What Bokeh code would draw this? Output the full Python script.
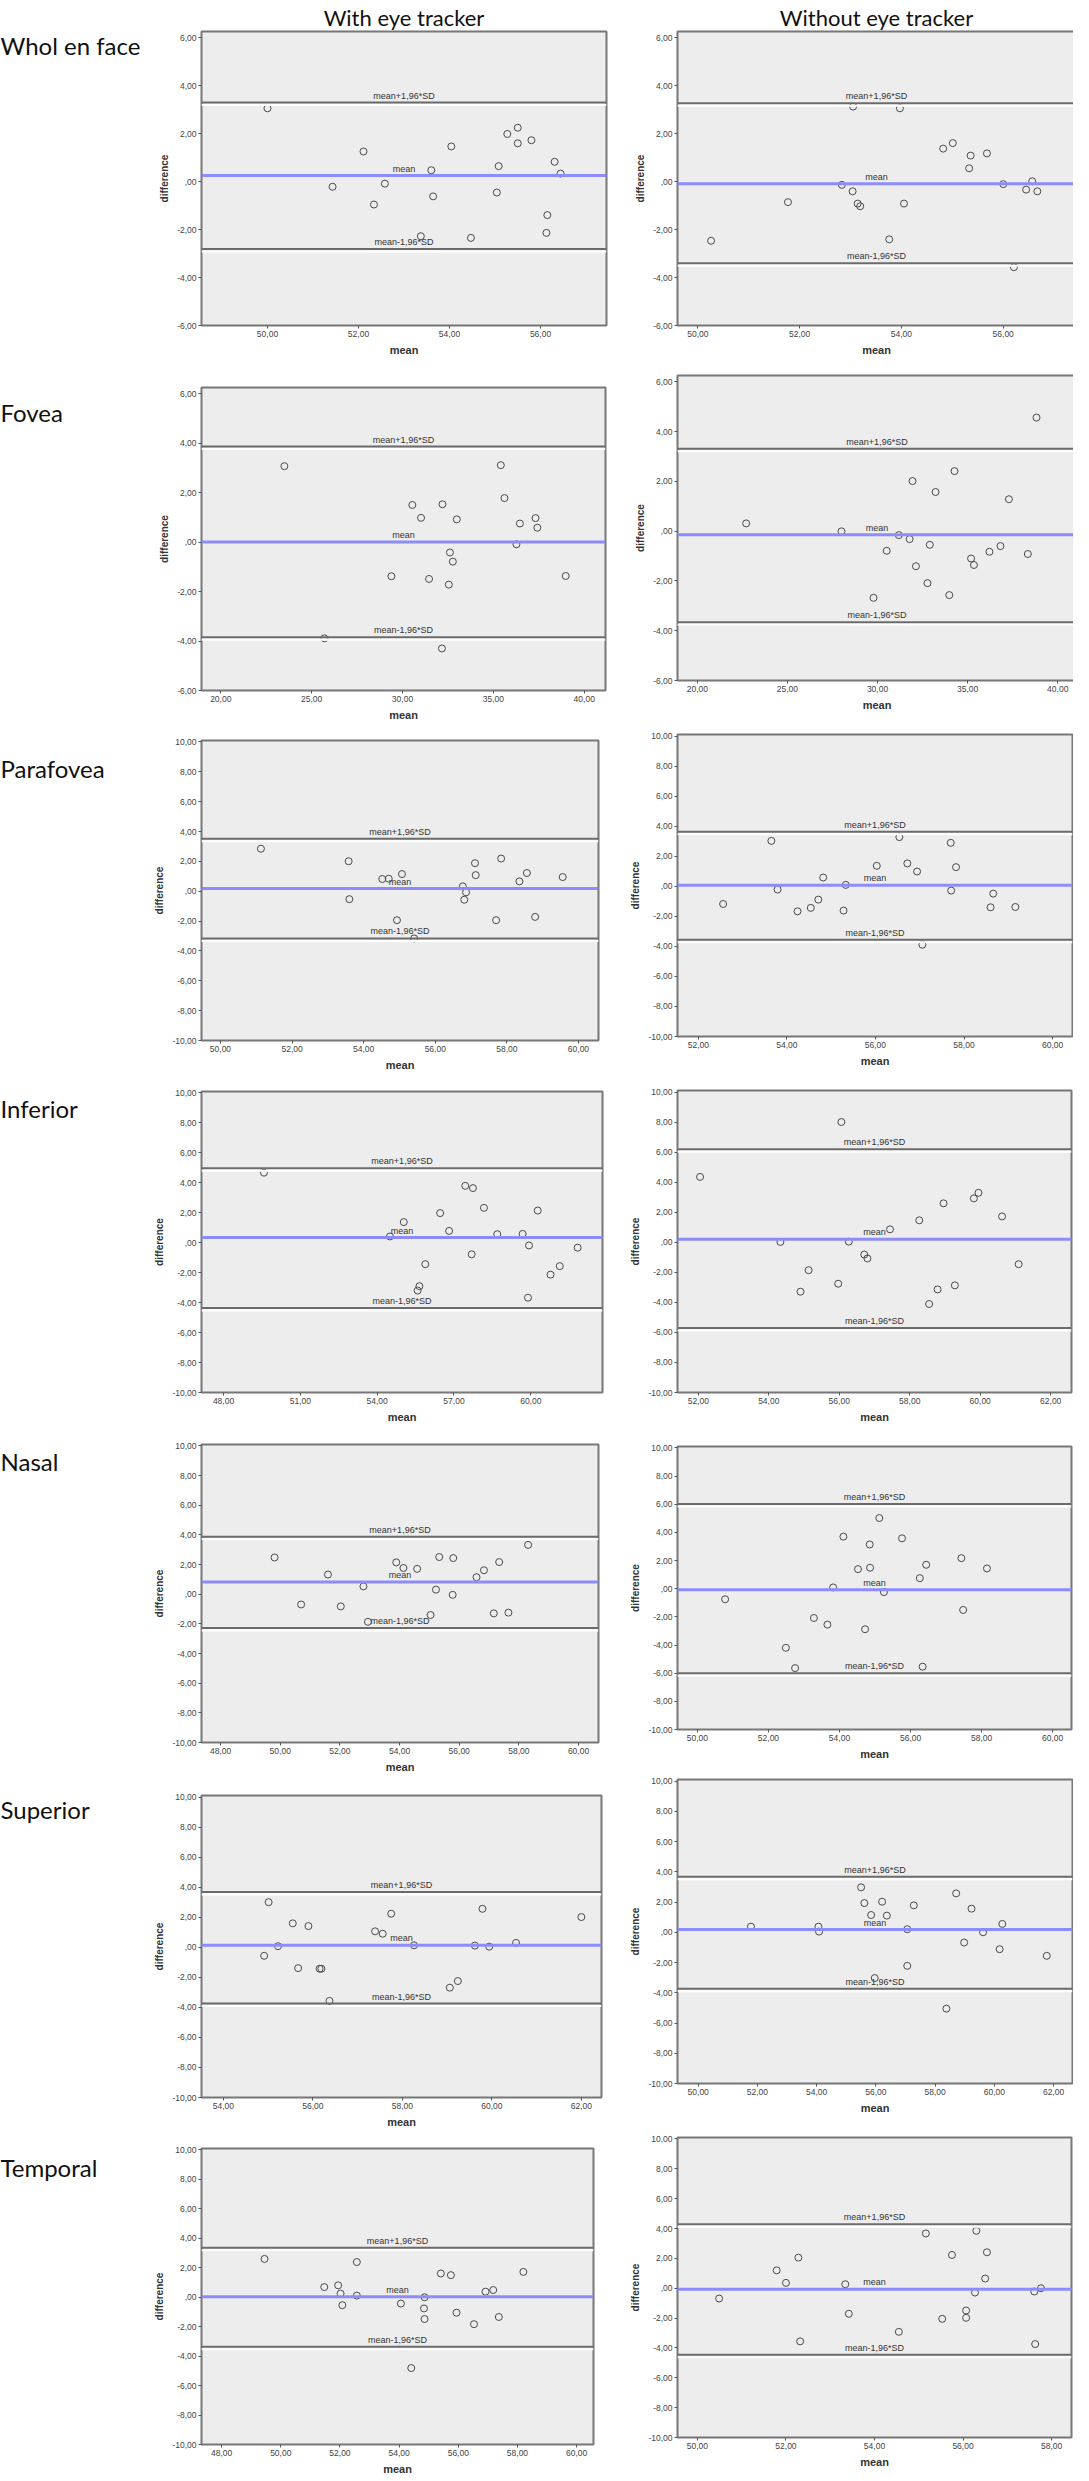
from bokeh.plotting import figure
from bokeh.layouts import row, column
from bokeh.models import Range1d, FixedTicker, Span
from bokeh.core.properties import value
from bokeh.embed import file_html
from bokeh.resources import INLINE

# ---------------- data ----------------
row_labels = ["Whol en face", "Fovea", "Parafovea", "Inferior", "Nasal", "Superior", "Temporal"]
col_titles = ["With eye tracker", "Without eye tracker"]
line_labels = ["mean+1,96*SD", "mean", "mean-1,96*SD"]

# Whol en face
whol_with_x = [50.0, 51.43, 52.11, 52.58, 52.34, 53.6, 53.64, 53.37, 54.04, 54.47, 55.08, 55.04, 55.27, 55.5, 55.5, 55.8, 56.31, 56.44, 56.15, 56.13]
whol_with_y = [3.05, -0.22, 1.25, -0.09, -0.96, 0.47, -0.62, -2.28, 1.46, -2.35, 0.64, -0.46, 1.98, 2.24, 1.59, 1.72, 0.82, 0.33, -1.40, -2.14]
whol_with_stats = [3.29, 0.25, -2.81]
whol_without_x = [50.26, 51.77, 52.83, 53.04, 53.05, 53.14, 53.19, 53.76, 53.97, 54.05, 54.82, 55.01, 55.33, 55.36, 55.68, 56.0, 56.21, 56.45, 56.57, 56.67]
whol_without_y = [-2.47, -0.86, -0.14, -0.41, 3.12, -0.92, -1.03, -2.41, 3.05, -0.92, 1.37, 1.60, 0.55, 1.08, 1.17, -0.11, -3.57, -0.34, 0.01, -0.41]
whol_without_stats = [3.26, -0.09, -3.41]

# Fovea
fovea_with_x = [23.5, 25.7, 29.39, 30.54, 31.02, 31.46, 32.2, 32.17, 32.61, 32.77, 32.55, 32.99, 35.41, 35.61, 36.46, 36.27, 37.32, 37.42, 38.98]
fovea_with_y = [3.07, -3.89, -1.38, 1.50, 0.98, -1.49, 1.53, -4.30, -0.42, -0.79, -1.72, 0.92, 3.11, 1.78, 0.75, -0.09, 0.97, 0.58, -1.37]
fovea_with_stats = [3.86, 0.0, -3.85]
fovea_without_x = [22.71, 28.0, 29.78, 30.51, 31.18, 31.78, 31.94, 32.13, 32.77, 32.9, 33.22, 33.98, 34.27, 35.19, 35.35, 36.21, 36.82, 37.29, 38.34, 38.82]
fovea_without_y = [0.31, -0.01, -2.68, -0.79, -0.16, -0.32, 2.01, -1.41, -2.09, -0.55, 1.57, -2.57, 2.41, -1.10, -1.36, -0.83, -0.60, 1.28, -0.92, 4.56]
fovea_without_stats = [3.31, -0.15, -3.66]

# Parafovea
para_with_x = [51.13, 53.58, 53.6, 54.52, 54.7, 54.93, 55.07, 55.41, 56.77, 56.81, 56.86, 57.11, 57.13, 57.7, 57.84, 58.35, 58.56, 58.79, 59.56]
para_with_y = [2.85, 2.01, -0.53, 0.82, 0.84, -1.94, 1.15, -3.16, 0.33, -0.57, -0.07, 1.88, 1.08, -1.94, 2.19, 0.66, 1.22, -1.72, 0.95]
para_with_stats = [3.51, 0.18, -3.16]
para_without_x = [52.56, 53.65, 53.79, 54.24, 54.54, 54.71, 54.82, 55.28, 55.33, 56.03, 56.54, 56.72, 56.94, 57.06, 57.7, 57.71, 57.82, 58.6, 58.66, 59.16]
para_without_y = [-1.18, 3.02, -0.22, -1.67, -1.44, -0.89, 0.58, -1.62, 0.09, 1.36, 3.27, 1.52, 0.98, -3.89, 2.89, -0.29, 1.27, -1.40, -0.49, -1.38]
para_without_stats = [3.62, 0.07, -3.56]

# Inferior
inf_with_x = [49.58, 54.5, 55.04, 55.58, 55.65, 55.88, 56.46, 56.81, 57.44, 57.69, 57.74, 58.17, 58.69, 59.68, 59.89, 59.93, 60.27, 60.77, 61.13, 61.83]
inf_with_y = [4.68, 0.42, 1.38, -3.19, -2.90, -1.43, 1.98, 0.79, 3.80, -0.77, 3.65, 2.33, 0.57, 0.59, -3.67, -0.18, 2.15, -2.13, -1.56, -0.33]
inf_with_stats = [4.97, 0.35, -4.35]
inf_without_x = [52.05, 54.33, 54.9, 55.13, 55.97, 56.06, 56.27, 56.71, 56.8, 57.44, 58.27, 58.55, 58.79, 58.96, 59.28, 59.82, 59.95, 60.62, 61.09]
inf_without_y = [4.35, 0.02, -3.29, -1.86, -2.76, 8.0, 0.04, -0.82, -1.08, 0.86, 1.46, -4.11, -3.14, 2.59, -2.87, 2.92, 3.29, 1.72, -1.46]
inf_without_stats = [6.19, 0.2, -5.7]

# Nasal
nasal_with_x = [49.81, 50.7, 51.6, 52.03, 52.79, 52.94, 53.89, 54.13, 54.59, 55.04, 55.22, 55.33, 55.78, 55.8, 56.58, 56.83, 57.16, 57.34, 57.65, 58.31]
nasal_with_y = [2.48, -0.69, 1.33, -0.82, 0.53, -1.86, 2.15, 1.77, 1.71, -1.40, 0.31, 2.51, -0.04, 2.44, 1.15, 1.62, -1.29, 2.17, -1.24, 3.33]
nasal_with_stats = [3.88, 0.82, -2.28]
nasal_without_x = [50.78, 52.49, 52.75, 53.28, 53.66, 53.82, 54.11, 54.52, 54.72, 54.85, 54.86, 55.12, 55.25, 55.76, 56.26, 56.34, 56.44, 57.43, 57.48, 58.15]
nasal_without_y = [-0.75, -4.2, -5.64, -2.08, -2.55, 0.09, 3.70, 1.39, -2.88, 3.14, 1.49, 5.02, -0.24, 3.58, 0.75, -5.54, 1.70, 2.17, -1.51, 1.44]
nasal_without_stats = [6.01, -0.07, -6.01]

# Superior
sup_with_x = [54.91, 55.01, 55.22, 55.55, 55.67, 55.9, 56.15, 56.19, 56.37, 57.39, 57.56, 57.75, 58.26, 59.06, 59.24, 59.62, 59.79, 59.94, 60.54, 62.0]
sup_with_y = [-0.57, 3.0, 0.07, 1.59, -1.39, 1.41, -1.43, -1.43, -3.57, 1.06, 0.90, 2.23, 0.13, -2.69, -2.25, 0.11, 2.56, 0.04, 0.29, 2.01]
sup_with_stats = [3.68, 0.13, -3.75]
sup_without_x = [51.78, 54.06, 54.08, 55.5, 55.61, 55.84, 55.96, 56.21, 56.37, 57.06, 57.06, 57.28, 58.38, 58.71, 58.98, 59.23, 59.62, 60.18, 60.27, 61.77]
sup_without_y = [0.37, 0.37, 0.04, 2.97, 1.93, 1.14, -3.03, 2.02, 1.10, 0.20, -2.22, 1.78, -5.05, 2.57, -0.68, 1.56, 0.0, -1.12, 0.55, -1.56]
sup_without_stats = [3.67, 0.18, -3.74]

# Temporal
temp_with_x = [49.45, 51.47, 51.94, 52.02, 52.08, 52.57, 52.57, 54.06, 54.41, 54.86, 54.84, 54.86, 55.41, 55.75, 55.94, 56.53, 56.92, 57.18, 57.37, 58.2]
temp_with_y = [2.60, 0.69, 0.81, 0.25, -0.54, 2.39, 0.11, -0.43, -4.81, 0.0, -0.76, -1.48, 1.61, 1.50, -1.05, -1.83, 0.38, 0.49, -1.34, 1.72]
temp_with_stats = [3.36, 0.04, -3.36]
temp_without_x = [50.49, 51.79, 52.0, 52.28, 52.32, 53.34, 53.42, 54.55, 55.16, 55.53, 55.75, 56.07, 56.07, 56.27, 56.3, 56.5, 56.54, 57.61, 57.63, 57.76]
temp_without_y = [-0.69, 1.2, 0.36, 2.05, -3.56, 0.27, -1.71, -2.92, 3.67, -2.05, 2.23, -1.49, -1.98, -0.29, 3.85, 0.65, 2.41, -0.22, -3.74, 0.0]
temp_without_stats = [4.28, -0.07, -4.45]

# axis ranges and ticks
yticks6 = [-6, -4, -2, 0, 2, 4, 6]
yticks10 = [-10, -8, -6, -4, -2, 0, 2, 4, 6, 8, 10]
yrange6 = (-6.0, 6.25)
yrange10 = (-10.0, 10.1)

whol_with_xr, whol_with_xt = (48.55, 57.45), [50, 52, 54, 56]
whol_without_xr, whol_without_xt = (49.6, 57.42), [50, 52, 54, 56]
fovea_with_xr, fovea_with_xt = (18.94, 41.17), [20, 25, 30, 35, 40]
fovea_without_xr, fovea_without_xt = (18.9, 41.04), [20, 25, 30, 35, 40]
para_with_xr, para_with_xt = (49.47, 60.56), [50, 52, 54, 56, 58, 60]
para_without_xr, para_without_xt = (51.53, 60.45), [52, 54, 56, 58, 60]
inf_with_xr, inf_with_xt = (47.14, 62.8), [48, 51, 54, 57, 60]
inf_without_xr, inf_without_xt = (51.41, 62.59), [52, 54, 56, 58, 60, 62]
nasal_with_xr, nasal_with_xt = (47.36, 60.67), [48, 50, 52, 54, 56, 58, 60]
nasal_without_xr, nasal_without_xt = (49.44, 60.53), [50, 52, 54, 56, 58, 60]
sup_with_xr, sup_with_xt = (53.51, 62.45), [54, 56, 58, 60, 62]
sup_without_xr, sup_without_xt = (49.3, 62.64), [50, 52, 54, 56, 58, 60, 62]
temp_with_xr, temp_with_xt = (47.32, 60.57), [48, 50, 52, 54, 56, 58, 60]
temp_without_xr, temp_without_xt = (49.55, 58.45), [50, 52, 54, 56, 58]

# ---------------- layout (pixels) ----------------
LABEL_W = 150
LEFT_COL_W = 475
# (border_left, frame_w, border_top, frame_h)
left_geom = [(45, 405, 0, 294), (48, 404, 29, 303), (51, 397, 17, 300), (51, 401, 18, 301),
             (51, 397, 19, 298), (51, 400, 20, 302), (50, 392, 18, 296)]
right_geom = [(48, 398, 0, 294), (47, 399, 17, 305), (51, 395, 21, 302), (52, 394, 21, 302),
              (52, 394, 21, 283), (51, 395, 17, 304), (52, 394, 21, 300)]
BOTTOM = 32
label_y = [53, 420, 776, 1116, 1469, 1817, 2175]

TICK_FONT = "Liberation Sans"
GRAY_BG = "#ededed"


def fmt(v):
    s = f"{v:.2f}".replace(".", ",")
    if s.startswith("0,"):
        s = s[1:]
    return s


def panel(xs, ys, stats, xr, xt, yr, yt, geom, total_w, title=None):
    bl, fw, bt, fh = geom
    br = total_w - bl - fw
    p = figure(frame_width=fw, frame_height=fh,
               x_range=Range1d(*xr), y_range=Range1d(*yr),
               output_backend="svg", toolbar_location=None,
               min_border_left=bl, min_border_right=br, min_border_top=bt,
               min_border_bottom=BOTTOM,
               background_fill_color=GRAY_BG, border_fill_color="white",
               outline_line_color="#777777", outline_line_width=2,
               title=title)
    if title:
        p.title.align = "center"
        p.title.text_font = "Lato"
        p.title.text_font_size = "22px"
        p.title.text_font_style = "normal"
        p.title.text_color = "#111111"
        p.title.standoff = 2
    p.xgrid.visible = False
    p.ygrid.visible = False
    p.xaxis.ticker = FixedTicker(ticks=xt)
    p.xaxis.major_label_overrides = {t: fmt(t) for t in xt}
    p.yaxis.ticker = FixedTicker(ticks=yt)
    p.yaxis.major_label_overrides = {t: fmt(t) for t in yt}
    p.xaxis.axis_label = "mean"
    p.yaxis.axis_label = "difference"
    for ax in (p.xaxis[0], p.yaxis[0]):
        ax.axis_line_color = None
        ax.major_tick_out = 3
        ax.major_tick_in = 0
        ax.major_tick_line_color = "#555555"
        ax.minor_tick_line_color = None
        ax.major_label_text_font = TICK_FONT
        ax.major_label_text_font_size = "8.5px"
        ax.major_label_text_color = "#444444"
        ax.major_label_standoff = 2
        ax.axis_label_text_font = TICK_FONT
        ax.axis_label_text_font_style = "bold"
        ax.axis_label_text_color = "#333333"
        ax.axis_label_standoff = 4
    p.xaxis.axis_label_text_font_size = "11px"
    p.yaxis.axis_label_text_font_size = "10px"

    upper, mean, lower = stats
    d = 2.5 * (yr[1] - yr[0]) / fh
    for lv in (upper, lower):
        p.add_layout(Span(location=lv, dimension="width", line_color="#6b6b6b", line_width=2))
        p.add_layout(Span(location=lv - d, dimension="width", line_color="white", line_width=2))
    p.add_layout(Span(location=mean, dimension="width", line_color="#8c8cff", line_width=3))

    xmid = (xr[0] + xr[1]) / 2
    p.text(x=[xmid] * 3, y=[upper, mean, lower], text=line_labels,
           text_align="center", text_baseline="bottom", y_offset=-2,
           text_font=value(TICK_FONT), text_font_size="9px", text_color="#333333")

    p.scatter(xs, ys, size=7, marker="circle", fill_color=None,
              line_color="#4a4a4a", line_width=1)
    return p


panels = [
    ((whol_with_x, whol_with_y, whol_with_stats, whol_with_xr, whol_with_xt, yrange6, yticks6),
     (whol_without_x, whol_without_y, whol_without_stats, whol_without_xr, whol_without_xt, yrange6, yticks6)),
    ((fovea_with_x, fovea_with_y, fovea_with_stats, fovea_with_xr, fovea_with_xt, yrange6, yticks6),
     (fovea_without_x, fovea_without_y, fovea_without_stats, fovea_without_xr, fovea_without_xt, yrange6, yticks6)),
    ((para_with_x, para_with_y, para_with_stats, para_with_xr, para_with_xt, yrange10, yticks10),
     (para_without_x, para_without_y, para_without_stats, para_without_xr, para_without_xt, yrange10, yticks10)),
    ((inf_with_x, inf_with_y, inf_with_stats, inf_with_xr, inf_with_xt, yrange10, yticks10),
     (inf_without_x, inf_without_y, inf_without_stats, inf_without_xr, inf_without_xt, yrange10, yticks10)),
    ((nasal_with_x, nasal_with_y, nasal_with_stats, nasal_with_xr, nasal_with_xt, yrange10, yticks10),
     (nasal_without_x, nasal_without_y, nasal_without_stats, nasal_without_xr, nasal_without_xt, yrange10, yticks10)),
    ((sup_with_x, sup_with_y, sup_with_stats, sup_with_xr, sup_with_xt, yrange10, yticks10),
     (sup_without_x, sup_without_y, sup_without_stats, sup_without_xr, sup_without_xt, yrange10, yticks10)),
    ((temp_with_x, temp_with_y, temp_with_stats, temp_with_xr, temp_with_xt, yrange10, yticks10),
     (temp_without_x, temp_without_y, temp_without_stats, temp_without_xr, temp_without_xt, yrange10, yticks10)),
]

left_figs, right_figs = [], []
for i, (lp, rp) in enumerate(panels):
    left_figs.append(panel(*lp, left_geom[i], LEFT_COL_W, title=col_titles[0] if i == 0 else None))
    rw = right_geom[i][0] + right_geom[i][1] + 2
    right_figs.append(panel(*rp, right_geom[i], rw, title=col_titles[1] if i == 0 else None))

# row label column
TOTAL_H = 2465
lab = figure(width=LABEL_W, height=TOTAL_H, x_range=Range1d(8, 8 + LABEL_W),
             y_range=Range1d(8 + TOTAL_H, 8), output_backend="svg", toolbar_location=None,
             min_border=0, outline_line_color=None, background_fill_color="white")
lab.axis.visible = False
lab.grid.visible = False
lab.text(x=[8] * len(row_labels), y=label_y, text=row_labels, text_align="left",
         text_baseline="middle", text_font=value("Lato"), text_font_size="24px",
         text_color="#111111")

layout = row(lab, column(*left_figs), column(*right_figs))
open("out.html", "w").write(file_html(layout, INLINE))
